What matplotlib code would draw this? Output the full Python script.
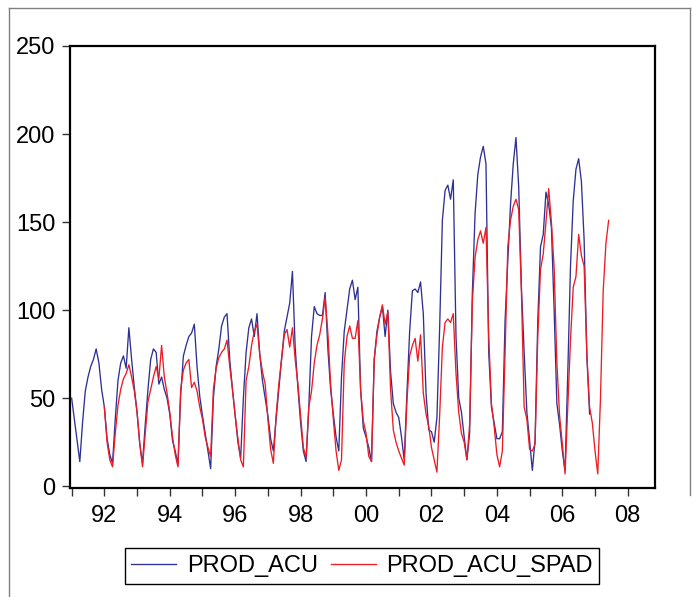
import numpy as np
import matplotlib
matplotlib.use("Agg")
import matplotlib.pyplot as plt
from matplotlib.lines import Line2D

plt.rcParams["font.family"] = ["Liberation Sans", "DejaVu Sans"]

# monthly series, 1991:01 onwards (one row per year)
prod_acu = [
    50, 38, 26, 14, 36, 54, 62, 68, 72, 78, 70, 55,          # 1991
    45, 27, 18, 13, 38, 60, 70, 74, 67, 90, 72, 56,          # 1992
    42, 24, 13, 35, 55, 72, 78, 76, 58, 62, 55, 50,          # 1993
    41, 26, 20, 12, 52, 74, 80, 85, 87, 92, 68, 51,          # 1994
    40, 30, 20, 10, 50, 68, 78, 91, 96, 98, 72, 55,          # 1995
    40, 25, 16, 50, 76, 90, 95, 85, 98, 75, 60, 50,          # 1996
    40, 27, 20, 38, 55, 72, 88, 96, 104, 122, 79, 56,        # 1997
    36, 20, 14, 45, 85, 102, 98, 97, 97, 110, 78, 55,        # 1998
    41, 28, 20, 62, 88, 100, 112, 117, 106, 113, 55, 33,     # 1999
    28, 22, 14, 72, 88, 96, 102, 85, 100, 65, 47, 42,        # 2000
    39, 28, 15, 53, 88, 111, 112, 110, 116, 98, 53, 32,      # 2001
    31, 25, 39, 90, 151, 168, 171, 163, 174, 85, 50, 42,     # 2002
    28, 15, 30, 110, 155, 177, 187, 193, 183, 76, 45, 36,    # 2003
    27, 27, 31, 94, 128, 160, 183, 198, 170, 113, 76, 42,    # 2004
    26, 9, 26, 94, 136, 143, 167, 160, 147, 100, 47, 35,     # 2005
    20, 9, 64, 125, 162, 180, 186, 173, 140, 74, 41,         # 2006 (to Nov)
]

# starts 1992:01
prod_acu_spad = [
    45, 25, 15, 11, 30, 46, 55, 61, 64, 69, 62, 54,          # 1992
    42, 24, 11, 30, 48, 55, 62, 68, 61, 80, 62, 53,          # 1993
    42, 28, 18, 11, 55, 66, 70, 72, 56, 59, 54, 45,          # 1994
    38, 28, 22, 17, 55, 67, 73, 76, 78, 83, 68, 55,          # 1995
    40, 27, 15, 11, 60, 68, 80, 88, 92, 75, 65, 58,          # 1996
    38, 21, 13, 40, 58, 72, 86, 89, 79, 90, 72, 58,          # 1997
    40, 22, 16, 45, 54, 70, 80, 86, 95, 107, 87, 58,         # 1998
    38, 20, 9, 15, 70, 85, 91, 84, 84, 94, 55, 37,           # 1999
    30, 17, 14, 72, 86, 96, 103, 92, 99, 55, 32, 25,         # 2000
    20, 16, 12, 48, 74, 80, 84, 71, 86, 53, 41, 34,          # 2001
    22, 15, 8, 40, 79, 93, 95, 93, 98, 64, 42, 30,           # 2002
    25, 15, 35, 105, 130, 140, 145, 138, 147, 85, 47, 34,    # 2003
    18, 11, 20, 76, 136, 151, 159, 163, 157, 110, 45, 38,    # 2004
    21, 20, 24, 85, 123, 132, 150, 169, 150, 124, 70, 40,    # 2005
    24, 7, 45, 83, 113, 119, 143, 131, 125, 75, 45, 36,      # 2006
    20, 7, 50, 111, 138, 151,                                # 2007 (to Jun)
]
spad_start = 12  # month index of 1992:01

year_labels = ["92", "94", "96", "98", "00", "02", "04", "06", "08"]

BLUE, RED = "#2e3192", "#ed1c24"

fig = plt.figure(figsize=(6.93, 5.97), dpi=100, facecolor="white")
ax = fig.add_axes([70 / 693, 109 / 597, 585 / 693, 442 / 597])

t1 = np.arange(len(prod_acu))
t2 = np.arange(len(prod_acu_spad)) + spad_start
ax.plot(t1, prod_acu, color=BLUE, lw=0.95, label="PROD_ACU", zorder=3)
ax.plot(t2, prod_acu_spad, color=RED, lw=0.95, label="PROD_ACU_SPAD", zorder=4)

ax.set_xlim(-0.6, 214.0)
ax.set_ylim(-1, 250)
ax.set_yticks([0, 50, 100, 150, 200, 250])
ax.set_xticks(np.arange(0, 205, 12), minor=True)
ax.set_xticks(np.arange(12, 205, 24))
ax.set_xticklabels(year_labels)

for s in ax.spines.values():
    s.set_linewidth(1.6)
    s.set_color("black")
ax.tick_params(axis="both", which="both", direction="out", width=1, color="#333333")
ax.tick_params(axis="x", which="both", length=5.5, pad=7, labelsize=17)
ax.tick_params(axis="y", length=5.5, pad=5, labelsize=17)

leg = fig.legend(loc="center", bbox_to_anchor=(362 / 693, 31 / 597), ncol=2,
                 fontsize=17, frameon=True, fancybox=False, framealpha=1,
                 edgecolor="black", borderpad=0.28, handlelength=1.9,
                 handletextpad=0.45, columnspacing=0.55)
leg.get_frame().set_linewidth(1.0)

# outer graph frame (partially visible)
gray = "#808080"
fig.add_artist(Line2D([9 / 693, 690 / 693], [1 - 8 / 597, 1 - 8 / 597], color=gray, lw=1, transform=fig.transFigure))
fig.add_artist(Line2D([9 / 693, 9 / 693], [0, 1 - 8 / 597], color=gray, lw=1, transform=fig.transFigure))
fig.add_artist(Line2D([690 / 693, 690 / 693], [1 - 495 / 597, 1 - 8 / 597], color=gray, lw=1, transform=fig.transFigure))

fig.savefig("out.png", dpi=100, facecolor="white")
